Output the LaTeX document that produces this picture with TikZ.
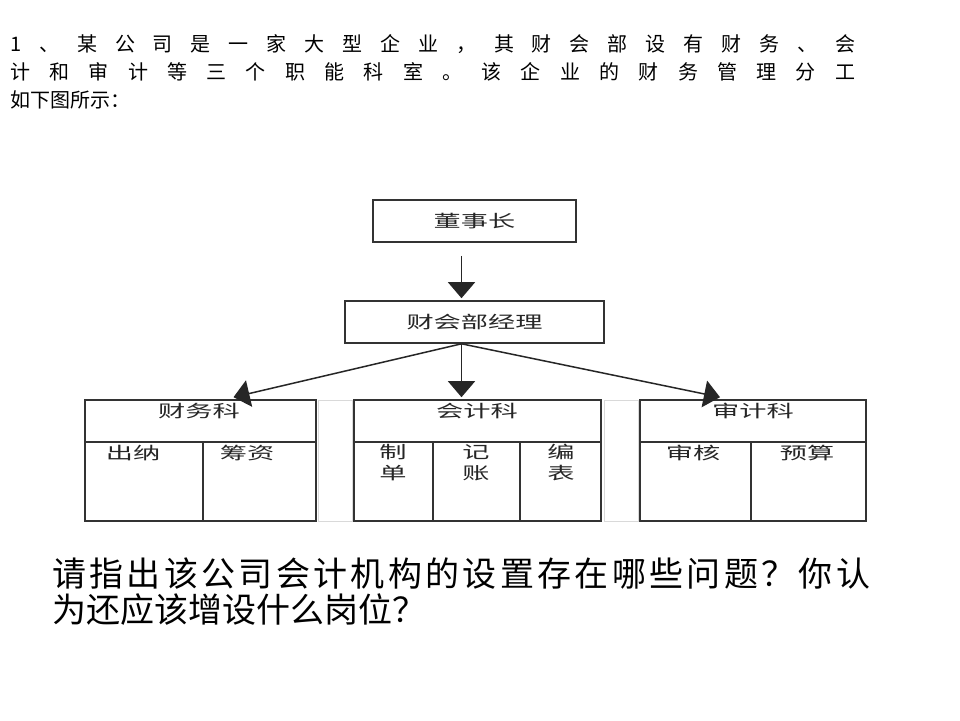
\documentclass[tikz,border=0pt]{standalone}
\usepackage{fontspec}
\newfontfamily\hei{Noto Sans CJK SC}
\newfontfamily\boxf{Noto Sans CJK SC}[FakeStretch=1.6]
\newfontfamily\song{Noto Sans CJK SC}
\usetikzlibrary{arrows.meta}
\newcommand\hf{\hfill}
\begin{document}
\begin{tikzpicture}[x=1pt,y=-1pt,
  box/.style={draw=black!80,line width=1.6pt,inner sep=0pt},
  lbl/.style={font=\boxf\fontsize{17}{21}\selectfont,inner sep=0pt,text=black!85,align=center},
  arr/.style={draw=black!85,line width=1.5pt,-{Triangle[width=27pt,length=16pt]}},
  ghost/.style={draw=black!15,line width=1pt},
  toptext/.style={font=\hei\fontsize{20}{24}\selectfont,inner sep=0pt,anchor=west},
  qtext/.style={font=\song\fontsize{34}{40}\selectfont,inner sep=0pt,anchor=west}]
\useasboundingbox[fill=white] (0,0) rectangle (960,720);

% heading text
\node[toptext] (t1) at (10,44) {\makebox[845pt][l]{1\hf 、\hf 某\hf 公\hf 司\hf 是\hf 一\hf 家\hf 大\hf 型\hf 企\hf 业\hf ，\hf 其\hf 财\hf 会\hf 部\hf 设\hf 有\hf 财\hf 务\hf 、\hf 会}};
\node[toptext] (t2) at (10,72) {\makebox[845pt][l]{计\hf 和\hf 审\hf 计\hf 等\hf 三\hf 个\hf 职\hf 能\hf 科\hf 室\hf 。\hf 该\hf 企\hf 业\hf 的\hf 财\hf 务\hf 管\hf 理\hf 分\hf 工}};
\node[toptext] (t3) at (10,100) {如下图所示：};

% ghost table borders
\draw[ghost] (318,400) rectangle (352,521);
\draw[ghost] (604,400) rectangle (638,521);

% top boxes
\node[box,lbl,minimum width=203pt,minimum height=42pt] (dsz) at (474.5,221) {董事长};
\node[box,lbl,minimum width=259pt,minimum height=42pt] (cbj) at (474.5,322) {财会部经理};

% 财务科
\node[box,minimum width=231pt,minimum height=42pt] (cwk) at (200.5,421) {};
\node[box,minimum width=118pt,minimum height=79pt] (cn) at (144,481.5) {};
\node[box,minimum width=113pt,minimum height=79pt] (cz) at (259.5,481.5) {};
\node[lbl] (cwkt) at (199,411) {财务科};
\node[lbl] (cnt) at (133,453) {出纳};
\node[lbl] (czt) at (247,453) {筹资};

% 会计科
\node[box,minimum width=247pt,minimum height=42pt] (kjk) at (477.5,421) {};
\node[box,minimum width=79pt,minimum height=79pt] (zd) at (393.5,481.5) {};
\node[box,minimum width=87pt,minimum height=79pt] (jz) at (476.5,481.5) {};
\node[box,minimum width=81pt,minimum height=79pt] (bb) at (560.5,481.5) {};
\node[lbl] (kjkt) at (477,411) {会计科};
\node[lbl] (zdt) at (393,462.5) {制\\单};
\node[lbl] (jzt) at (476,462.5) {记\\账};
\node[lbl] (bbt) at (561,462.5) {编\\表};

% 审计科
\node[box,minimum width=226pt,minimum height=42pt] (sjk) at (753,421) {};
\node[box,minimum width=111pt,minimum height=79pt] (sh) at (695.5,481.5) {};
\node[box,minimum width=115pt,minimum height=79pt] (ys) at (808.5,481.5) {};
\node[lbl] (sjkt) at (753,411) {审计科};
\node[lbl] (sht) at (693,453) {审核};
\node[lbl] (yst) at (807,453) {预算};

% arrows
\draw[arr] ([xshift=-13pt,yshift=-13pt]dsz.south) -- ([xshift=-13pt,yshift=2pt]cbj.north);
\draw[arr] ([xshift=-13pt]cbj.south) -- ([xshift=33pt,yshift=2pt]cwk.north);
\draw[arr] ([xshift=-13pt]cbj.south) -- ([xshift=-16pt,yshift=2pt]kjk.north);
\draw[arr] ([xshift=-13pt]cbj.south) -- ([xshift=-33pt,yshift=2pt]sjk.north);

% question
\node[qtext] (q1) at (52,574) {\makebox[818pt][l]{请\hf 指\hf 出\hf 该\hf 公\hf 司\hf 会\hf 计\hf 机\hf 构\hf 的\hf 设\hf 置\hf 存\hf 在\hf 哪\hf 些\hf 问\hf 题\hf ？\hf 你\hf 认}};
\node[qtext] (q2) at (52,610) {为还应该增设什么岗位？};
\end{tikzpicture}
\end{document}
